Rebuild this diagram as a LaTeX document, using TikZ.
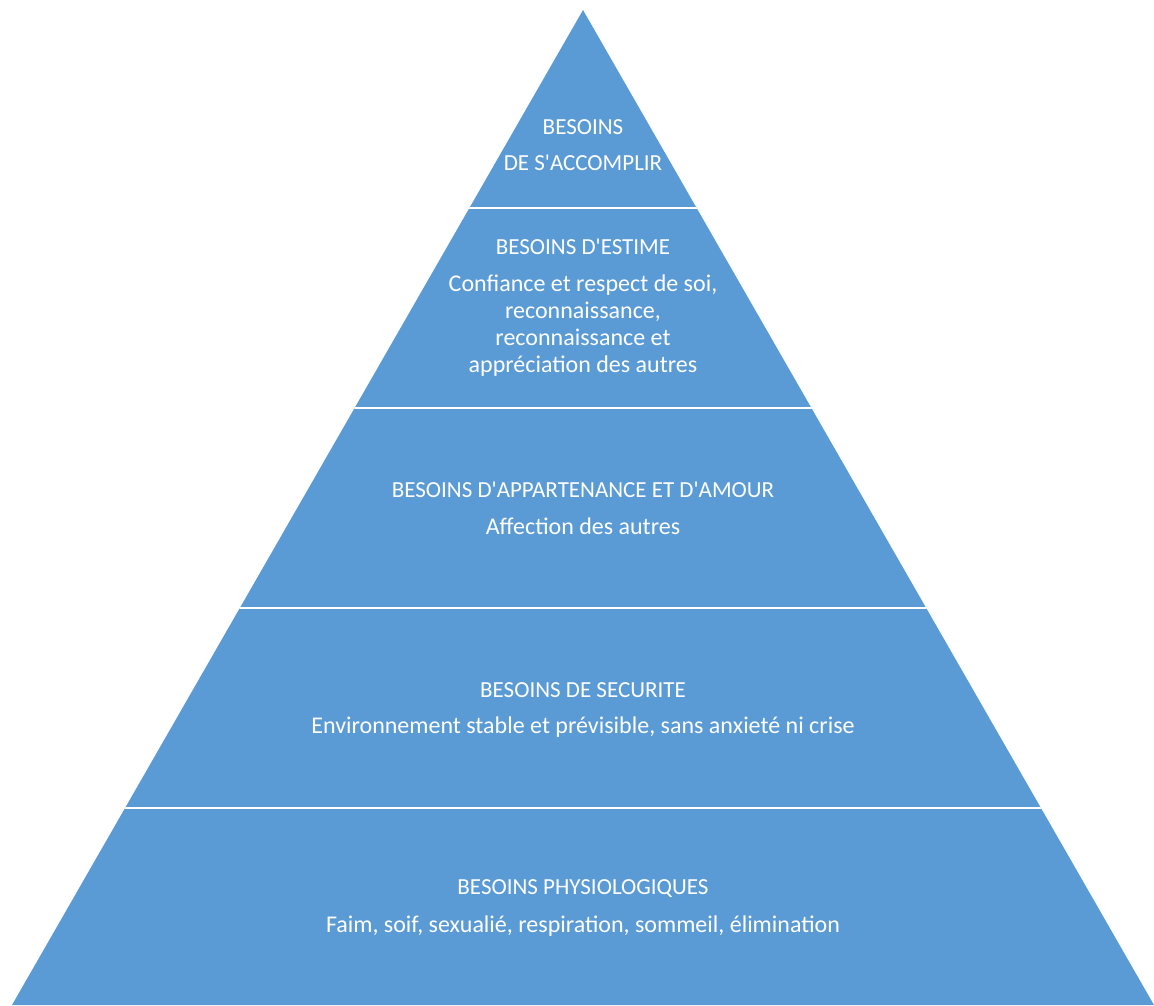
\documentclass[tikz,border=0pt]{standalone}
\usepackage{fontspec}
\setmainfont{Carlito}
\usetikzlibrary{positioning}
\definecolor{pyrblue}{HTML}{5B9BD5}
\tikzset{level/.style = {text = white, align = center, inner sep = 0,
                         font = \fontsize{24}{27}\selectfont}}
\tikzset{head/.style = {level, font = \fontsize{23}{27}\selectfont}}
\tikzset{sep/.style = {draw = white, line width = 2}}
\newcommand{\ap}{\textquotesingle}

\begin{document}
\begin{tikzpicture}[x = 1pt, y = -1pt]
      \useasboundingbox (0, 0) rectangle (1154, 1005);
      \fill [pyrblue] (583, 10) coordinate (apex) -- (1154, 1005) coordinate (br)
            -- (12, 1005) coordinate (bl) -- cycle;

      \begin{scope}
        \clip (apex) -- (br) -- (bl) -- cycle;
        \foreach \y in {208, 408, 608, 808}
          \draw [sep] (0, \y) -- (1154, \y);
      \end{scope}

      \node [head] (top) at (583, 127) {BESOINS};
      \node [head] (topb) at (583, 163) {DE S\ap ACCOMPLIR};

      \node [head] (est) at (583, 247) {BESOINS D\ap ESTIME};
      \node [level] (estb) at (583, 326) {Confiance et respect de soi,\\
            reconnaissance,\\ reconnaissance et\\ appréciation des autres};

      \node [head] (app) at (583, 490) {BESOINS D\ap APPARTENANCE ET D\ap AMOUR};
      \node [level] (appb) at (583, 526) {Affection des autres};

      \node [head] (sec) at (583, 690) {BESOINS DE SECURITE};
      \node [level] (secb) at (583, 727) {Environnement stable et prévisible, sans anxieté ni crise};

      \node [head] (phy) at (583, 889) {BESOINS PHYSIOLOGIQUES};
      \node [level] (phyb) at (583, 926) {Faim, soif, sexualié, respiration, sommeil, élimination};
\end{tikzpicture}
\end{document}
